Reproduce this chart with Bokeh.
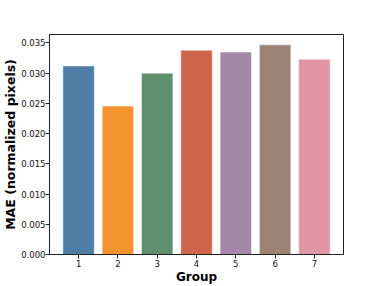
from bokeh.plotting import figure
from bokeh.models import ColumnDataSource, Range1d, FixedTicker, NumeralTickFormatter
from bokeh.embed import file_html
from bokeh.resources import INLINE

groups = [1, 2, 3, 4, 5, 6, 7]
mae = [0.0312, 0.02455, 0.0300, 0.0338, 0.0335, 0.0347, 0.0323]
colors = ["#4e7ea6", "#f4922e", "#5e9070", "#d0644a", "#a488a8", "#9c8274", "#e096a6"]
y_ticks = [0.0, 0.005, 0.010, 0.015, 0.020, 0.025, 0.030, 0.035]
x_label = "Group"
y_label = "MAE (normalized pixels)"

src = ColumnDataSource(dict(x=groups, top=mae, color=colors))

p = figure(width=381, height=286, output_backend="svg", toolbar_location=None,
           x_range=Range1d(0.26, 7.74), y_range=Range1d(0, 0.0364),
           min_border_left=47, min_border_right=38, min_border_top=34, min_border_bottom=32)

p.vbar(x="x", top="top", width=0.8, bottom=0, source=src, fill_color="color",
       line_color="white", line_alpha=0.5, line_width=1)

p.xgrid.visible = False
p.ygrid.visible = False
p.outline_line_color = "#222222"
p.outline_line_width = 1
p.outline_line_alpha = 1

p.xaxis.ticker = FixedTicker(ticks=groups)
p.yaxis.ticker = FixedTicker(ticks=y_ticks)
p.yaxis.formatter = NumeralTickFormatter(format="0.000")
p.xaxis.axis_label = x_label
p.yaxis.axis_label = y_label

for ax in (p.xaxis[0], p.yaxis[0]):
    ax.major_label_text_font = "DejaVu Sans"
    ax.major_label_text_font_size = "8.5px"
    ax.major_label_text_color = "#111111"
    ax.axis_label_text_font = "DejaVu Sans"
    ax.axis_label_text_font_size = "12px"
    ax.axis_label_text_font_style = "bold"
    ax.axis_label_text_color = "black"
    ax.axis_label_text_line_height = 0.8
    ax.major_label_text_line_height = 0.8
    ax.minor_tick_line_color = None
    ax.major_tick_out = 4
    ax.major_tick_in = 0
    ax.major_label_standoff = 1
    ax.axis_label_standoff = 0
    ax.axis_line_color = "#222222"
    ax.major_tick_line_color = "#222222"

p.yaxis[0].axis_label_text_font_size = "12.5px"
p.yaxis[0].major_label_standoff = 0

open("out.html", "w").write(file_html(p, INLINE))
